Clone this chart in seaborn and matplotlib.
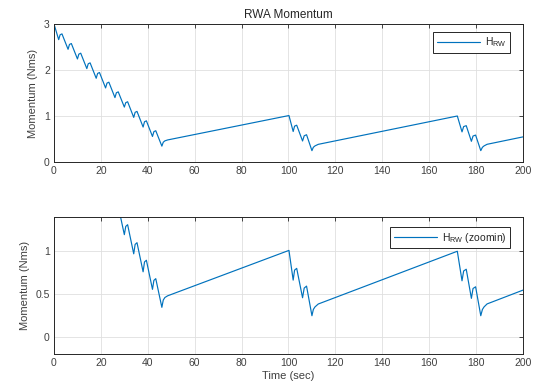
import matplotlib
matplotlib.use("Agg")
import matplotlib.pyplot as plt
import seaborn as sns
import pandas as pd

# ---- data ----
time_s = [0,
          2, 2.6, 3.4, 6, 6.6, 7.4, 10, 10.6, 11.4, 14, 14.6, 15.4,
          18, 18.6, 19.4, 22, 22.6, 23.4, 26, 26.6, 27.4, 30, 30.6, 31.4,
          34, 34.6, 35.4, 38, 38.6, 39.4, 42, 42.6, 43.4, 46, 46.6, 47.3, 48.5,
          100.2, 102, 102.6, 103.5, 106, 106.7, 107.7, 110, 110.6, 111.3, 112.7,
          172, 174, 174.7, 175.8, 178, 178.7, 179.8, 182, 182.7, 183.4, 184.7,
          200]
h_rw = [3.0,
        2.66, 2.765, 2.785, 2.45, 2.555, 2.575, 2.24, 2.345, 2.365, 2.03, 2.135, 2.155,
        1.82, 1.925, 1.945, 1.61, 1.715, 1.735, 1.40, 1.505, 1.525, 1.194, 1.29, 1.31,
        0.97, 1.08, 1.10, 0.76, 0.875, 0.895, 0.555, 0.66, 0.68, 0.345, 0.43, 0.46, 0.48,
        1.01, 0.663, 0.78, 0.80, 0.457, 0.57, 0.593, 0.247, 0.32, 0.35, 0.384,
        1.0, 0.655, 0.77, 0.79, 0.45, 0.565, 0.585, 0.247, 0.32, 0.35, 0.385,
        0.546]

x_ticks = [0, 20, 40, 60, 80, 100, 120, 140, 160, 180, 200]
top_yticks = [0, 1, 2, 3]
bot_yticks = [0, 0.5, 1]
bot_yticklabels = ["0", "0.5", "1"]

df = pd.DataFrame({"t": time_s, "h": h_rw})

sns.set_style("white")
plt.rcParams["font.family"] = ["Liberation Sans", "DejaVu Sans"]
plt.rcParams["mathtext.default"] = "regular"

TXT = "#262626"
LINE = "#0072BD"
GRID = "#dfdfdf"

fig = plt.figure(figsize=(5.33, 3.9), dpi=100)
ax1 = fig.add_axes([0.1013, 0.5846, 0.8799, 0.3539])
ax2 = fig.add_axes([0.1013, 0.0923, 0.8799, 0.3513])

sns.lineplot(data=df, x="t", y="h", ax=ax1, color=LINE, linewidth=0.85,
             estimator=None, label="H$_{RW}$")
sns.lineplot(data=df, x="t", y="h", ax=ax2, color=LINE, linewidth=0.85,
             estimator=None, label="H$_{RW}$ (zoomin)")

legend_anchor = {ax1: (0.972, 0.942), ax2: (0.972, 0.927)}

for ax in (ax1, ax2):
    ax.set_xlim(0, 200)
    ax.set_xticks(x_ticks)
    ax.grid(True, color=GRID, linewidth=0.6)
    ax.set_axisbelow(True)
    for s in ax.spines.values():
        s.set_color(TXT)
        s.set_linewidth(0.7)
    ax.tick_params(direction="in", length=3, width=0.6, colors=TXT,
                   labelsize=7.5, top=True, right=True, pad=3,
                   labelcolor="#404040")
    ax.set_ylabel("Momentum (Nms)", fontsize=8, color="#404040", labelpad=4)
    leg = ax.legend(loc="upper right", bbox_to_anchor=legend_anchor[ax],
                    fontsize=7.5, handlelength=4.2,
                    fancybox=False, framealpha=1, edgecolor=TXT,
                    borderpad=0.35, handletextpad=0.4, borderaxespad=0)
    leg.get_frame().set_linewidth(0.7)

ax1.set_ylim(0, 3)
ax1.set_yticks(top_yticks)
ax1.set_xlabel("")
ax1.set_title("RWA Momentum", fontsize=8.5, color=TXT, pad=4)

ax2.set_ylim(-0.2, 1.4)
ax2.set_yticks(bot_yticks)
ax2.set_yticklabels(bot_yticklabels)
ax2.set_xlabel("Time (sec)", fontsize=8, color="#404040", labelpad=2)

fig.savefig("out.png", dpi=100)
